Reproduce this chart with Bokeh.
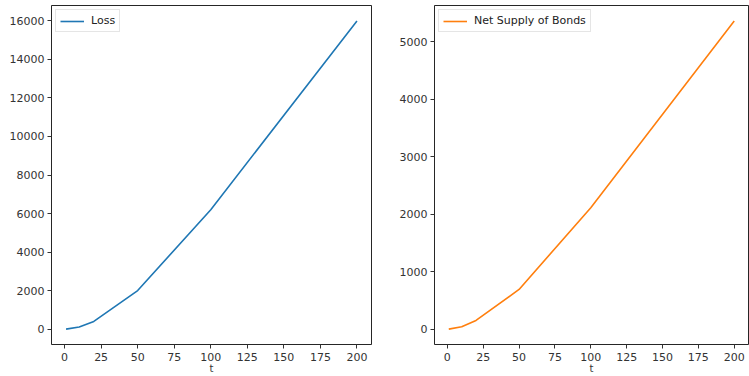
from bokeh.plotting import figure
from bokeh.layouts import row
from bokeh.models import Range1d, FixedTicker, Legend, LegendItem
from bokeh.embed import file_html
from bokeh.resources import INLINE

t = [1, 10, 20, 50, 100, 200]
loss = [0, 110, 400, 2000, 6200, 16000]
bonds = [0, 40, 150, 690, 2110, 5360]
x_ticks = [0, 25, 50, 75, 100, 125, 150, 175, 200]
loss_ticks = [0, 2000, 4000, 6000, 8000, 10000, 12000, 14000, 16000]
bond_ticks = [0, 1000, 2000, 3000, 4000, 5000]

FONT = "DejaVu Sans"


def make(y, yticks, color, label, width, left, right):
    ymin, ymax = min(y), max(y)
    pad = (ymax - ymin) * 0.05
    xpad = (max(t) - min(t)) * 0.05
    p = figure(width=width, height=376, output_backend="svg", toolbar_location=None,
               x_range=Range1d(min(t) - xpad, max(t) + xpad),
               y_range=Range1d(ymin - pad, ymax + pad),
               min_border_left=left, min_border_right=right,
               min_border_top=5, min_border_bottom=29)
    r = p.line(t, y, line_color=color, line_width=1.6)
    p.xgrid.visible = False
    p.ygrid.visible = False
    p.outline_line_color = "#000000"
    p.outline_line_width = 1
    p.outline_line_alpha = 0.85
    p.background_fill_color = "white"
    p.border_fill_color = "white"
    p.xaxis.ticker = FixedTicker(ticks=x_ticks)
    p.yaxis.ticker = FixedTicker(ticks=yticks)
    for ax in (p.xaxis[0], p.yaxis[0]):
        ax.axis_line_color = None
        ax.major_tick_line_color = "#333333"
        ax.major_tick_out = 4
        ax.major_tick_in = 0
        ax.minor_tick_line_color = None
        ax.major_label_text_font = FONT
        ax.major_label_text_font_size = "11px"
        ax.major_label_text_color = "#333333"
        ax.major_label_standoff = 3
    p.xaxis.major_label_standoff = 4
    p.xaxis.axis_label = "t"
    p.xaxis.axis_label_text_font = FONT
    p.xaxis.axis_label_text_font_size = "10px"
    p.xaxis.axis_label_text_font_style = "normal"
    p.xaxis.axis_label_text_color = "#333333"
    p.xaxis.axis_label_standoff = -1
    legend = Legend(items=[LegendItem(label=label, renderers=[r])], location="top_left")
    legend.label_text_font = FONT
    legend.label_text_font_size = "11px"
    legend.label_text_color = "#222222"
    legend.border_line_color = "#cccccc"
    legend.border_line_width = 1
    legend.padding = 4
    legend.margin = 4
    legend.spacing = 0
    legend.glyph_width = 24
    legend.glyph_height = 12
    legend.label_height = 12
    legend.label_standoff = 7
    p.add_layout(legend)
    return p


p1 = make(loss, loss_ticks, "#1f77b4", "Loss", 380, 51, 9)
p2 = make(bonds, bond_ticks, "#ff7f0e", "Net Supply of Bonds", 369, 54, 1)
layout = row(p1, p2)

open("out.html", "w").write(file_html(layout, INLINE))
